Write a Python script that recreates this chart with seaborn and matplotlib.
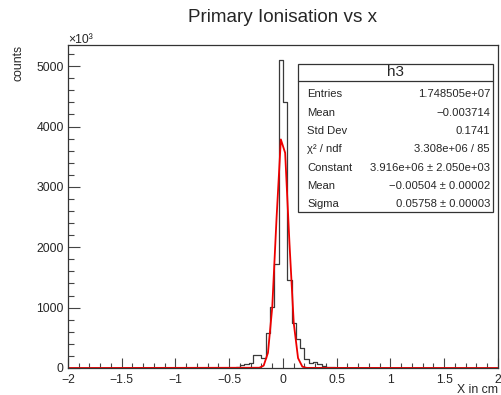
import numpy as np
import matplotlib
matplotlib.use("Agg")
import matplotlib.pyplot as plt
from matplotlib.ticker import MultipleLocator
from matplotlib.patches import Rectangle
from matplotlib.lines import Line2D
import seaborn as sns

# ---------------- data (counts in units of 10^3) ----------------
bin_centers = [-0.46, -0.42, -0.38, -0.34, -0.30, -0.26, -0.22, -0.18, -0.14, -0.10,
               -0.06, -0.02, 0.02, 0.06, 0.10, 0.14, 0.18, 0.22, 0.26, 0.30,
               0.34, 0.38, 0.42, 0.46]
bin_counts = [8, 20, 45, 65, 85, 215, 210, 165, 575, 1010,
              1730, 5100, 4400, 1450, 740, 480, 325, 145, 80, 95,
              70, 40, 20, 10]

fit_x = [-2.0, -0.22, -0.18, -0.14, -0.10, -0.06, -0.02, 0.02, 0.06, 0.10, 0.14, 0.18, 0.22, 2.0]
fit_y = [0, 4, 39, 251, 1006, 2482, 3786, 3564, 2071, 743, 164, 22, 2, 0]

xticks = [-2, -1.5, -1, -0.5, 0, 0.5, 1, 1.5, 2]
xtick_labels = ["\u22122", "\u22121.5", "\u22121", "\u22120.5", "0", "0.5", "1", "1.5", "2"]
yticks = [0, 1000, 2000, 3000, 4000, 5000]
ytick_labels = ["0", "1000", "2000", "3000", "4000", "5000"]

stats_title = "h3"
stats_names = ["Entries", "Mean", "Std Dev", "\u03c7\u00b2 / ndf", "Constant", "Mean", "Sigma"]
stats_values = ["1.748505e+07", "\u22120.003714", "0.1741", "3.308e+06 / 85",
                "3.916e+06 \u00b1 2.050e+03", "\u22120.00504 \u00b1 0.00002", "0.05758 \u00b1 0.00003"]

# ---------------- style ----------------
sns.set_style("ticks")
plt.rcParams["font.family"] = ["Liberation Sans", "DejaVu Sans"]

W, H = 502, 395
fig = plt.figure(figsize=(W / 100, H / 100), dpi=100)
ax = fig.add_axes([68 / W, 27 / H, 430 / W, 323 / H])

sns.histplot(x=bin_centers, weights=bin_counts, binwidth=0.04, binrange=(-2, 2),
             element="step", fill=False, color="#3a3a3a", linewidth=0.9, ax=ax)
sns.lineplot(x=fit_x, y=fit_y, color="#ee0000", linewidth=1.3, ax=ax, sort=False)

ax.set_xlim(-2, 2)
ax.set_ylim(0, 5350)
ax.set_xticks(xticks)
ax.set_xticklabels(xtick_labels)
ax.set_yticks(yticks)
ax.set_yticklabels(ytick_labels)
ax.xaxis.set_minor_locator(MultipleLocator(0.1))
ax.yaxis.set_minor_locator(MultipleLocator(200))
ax.tick_params(axis="x", which="major", direction="in", length=7, width=0.8,
               labelsize=8.8, pad=4, color="#444444")
ax.tick_params(axis="x", which="minor", direction="in", length=3.5, width=0.8, color="#444444")
ax.tick_params(axis="y", which="major", direction="in", length=8.6, width=0.8,
               labelsize=8.8, pad=3, color="#444444")
ax.tick_params(axis="y", which="minor", direction="in", length=4.3, width=0.8, color="#444444")
for s in ax.spines.values():
    s.set_visible(True)
    s.set_linewidth(0.9)
    s.set_color("#333333")

ax.set_xlabel("X in cm", fontsize=8.8)
ax.xaxis.set_label_coords(1.0, -0.05)
ax.xaxis.label.set_horizontalalignment("right")
ax.set_ylabel("counts", fontsize=8.8)
ax.yaxis.set_label_coords(-0.1, 1.0)
ax.yaxis.label.set_verticalalignment("bottom")
ax.yaxis.label.set_horizontalalignment("right")
ax.yaxis.label.set_rotation(90)

fig.text(68 / W, 1 - 46 / H, "\u00d710\u00b3", fontsize=8.8, ha="left", va="bottom")

fig.text(283 / W, 1 - 18 / H, "Primary Ionisation vs x", fontsize=13.6,
         ha="center", va="center")

# ---------------- stats box ----------------
bx0, bx1, by0, by1 = 298, 493, 64, 212
fig.patches.append(Rectangle((bx0 / W, 1 - by1 / H), (bx1 - bx0) / W, (by1 - by0) / H,
                             transform=fig.transFigure, facecolor="white",
                             edgecolor="#333333", linewidth=0.9, zorder=5))
fig.lines.append(Line2D([bx0 / W, bx1 / W], [1 - 81 / H, 1 - 81 / H],
                        transform=fig.transFigure, color="#333333", linewidth=0.9, zorder=6))
fig.text((bx0 + bx1) / 2 / W, 1 - 72.5 / H, stats_title, fontsize=11,
         ha="center", va="center", zorder=7)
row_y = [94, 112.5, 131, 149, 167.5, 186, 204]
for yy, name, val in zip(row_y, stats_names, stats_values):
    fig.text(307 / W, 1 - yy / H, name, fontsize=8.1, ha="left", va="center", zorder=7)
    fig.text(490 / W, 1 - yy / H, val, fontsize=8.1, ha="right", va="center", zorder=7)

fig.savefig("out.png", dpi=100)
